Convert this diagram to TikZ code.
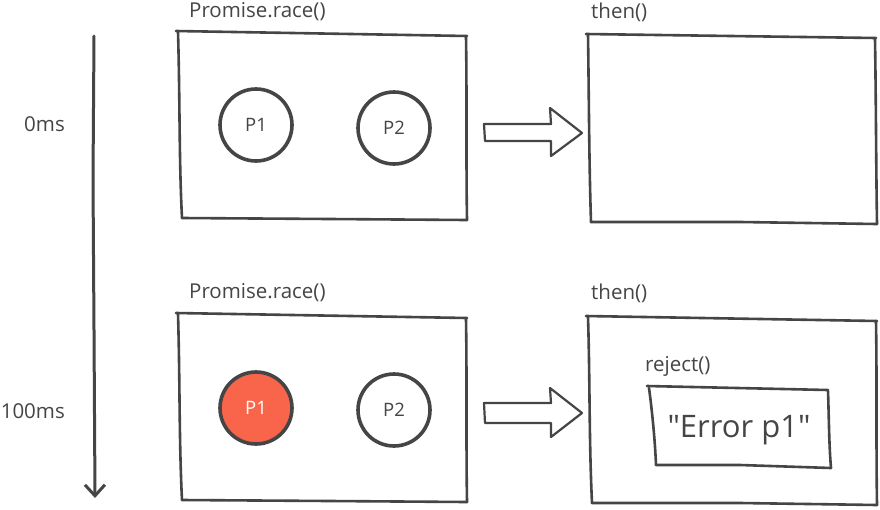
\documentclass[tikz,border=0pt]{standalone}
\usepackage{fontspec}
\setmainfont{Open Sans}
\newfontfamily\errfont{Open Sans}
\usetikzlibrary{arrows.meta}
\definecolor{ink}{HTML}{454545}
\definecolor{redp}{HTML}{F9654A}
\tikzset{
  sk/.style={draw=ink, line width=2.6pt, line cap=round, line join=round},
  circ/.style={circle, draw=ink, line width=3.6pt, minimum size=72pt, inner sep=0pt, text=ink, font=\fontsize{18.5}{21}\selectfont},
  lbl/.style={text=ink, font=\fontsize{20.5}{23}\selectfont, inner sep=0pt},
}
\begin{document}
\begin{tikzpicture}[x=1pt,y=-1pt]
\useasboundingbox (0,0) rectangle (880,509);
\fill[white] (0,0) rectangle (880,509);

% timeline
\draw[sk, line width=3pt, -{Straight Barb[length=11pt,width=20pt,line width=3pt]}] (94,36) -- (93,180) -- (94,330) -- (95,498);
\node[lbl, anchor=east] (t0) at (65,124) {0ms};
\node[lbl, anchor=east] (t1) at (65,411) {100ms};

% top left box
\node[lbl, anchor=west] (l1) at (189,12) {Promise.race()};
\draw[sk] (176,31) -- (467,36);
\draw[sk] (178,32) .. controls (180,100) and (179,160) .. (182,218);
\draw[sk] (182,218) -- (330,219) -- (467,220);
\draw[sk] (466,37) .. controls (467,100) and (466,160) .. (467,220);
\node[circ] (p1a) at (256,125) {P1};
\node[circ] (p2a) at (394,128) {P2};

% top right box
\node[lbl, anchor=west] (l2) at (591,12) {then()};
\draw[sk] (586,34) -- (876,38);
\draw[sk] (588,35) .. controls (589,100) and (589,160) .. (591,222);
\draw[sk] (591,222) -- (740,222) -- (877,224);
\draw[sk] (875,39) .. controls (876,100) and (876,160) .. (877,224);

% arrow top
\draw[sk, line width=2.2pt] (484,124) -- (551,124) -- (550,108) -- (582,133) -- (551,156) -- (551,141) -- (485,141) -- cycle;

% bottom left box
\node[lbl, anchor=west] (l3) at (189,293) {Promise.race()};
\draw[sk] (176,313) -- (467,318);
\draw[sk] (178,314) .. controls (180,380) and (179,440) .. (182,500);
\draw[sk] (182,500) -- (330,501) -- (467,502);
\draw[sk] (466,319) .. controls (467,380) and (466,440) .. (467,502);
\node[circ, fill=redp, text=white] (p1b) at (256,408) {P1};
\node[circ] (p2b) at (394,410) {P2};

% bottom right box
\node[lbl, anchor=west] (l4) at (591,293) {then()};
\draw[sk] (586,316) -- (877,321);
\draw[sk] (588,317) .. controls (590,380) and (589,440) .. (592,503);
\draw[sk] (592,503) -- (740,503) -- (877,505);
\draw[sk] (876,322) .. controls (877,380) and (876,440) .. (877,505);

% arrow bottom
\draw[sk, line width=2.2pt] (484,403) -- (551,403) -- (550,388) -- (582,413) -- (551,437) -- (551,423) -- (485,423) -- cycle;

% inner reject box
\node[lbl, anchor=west] (l5) at (645,366) {reject()};
\draw[sk] (647,386) -- (828,390);
\draw[sk] (649,388) .. controls (652,410) and (655,440) .. (656,465);
\draw[sk] (656,465) -- (740,465) -- (831,468);
\draw[sk] (828,391) .. controls (829,420) and (829,445) .. (831,468);
\node[text=ink, font=\errfont\fontsize{31}{35}\selectfont, inner sep=0pt] (err) at (739,430) {"Error p1"};
\end{tikzpicture}
\end{document}
